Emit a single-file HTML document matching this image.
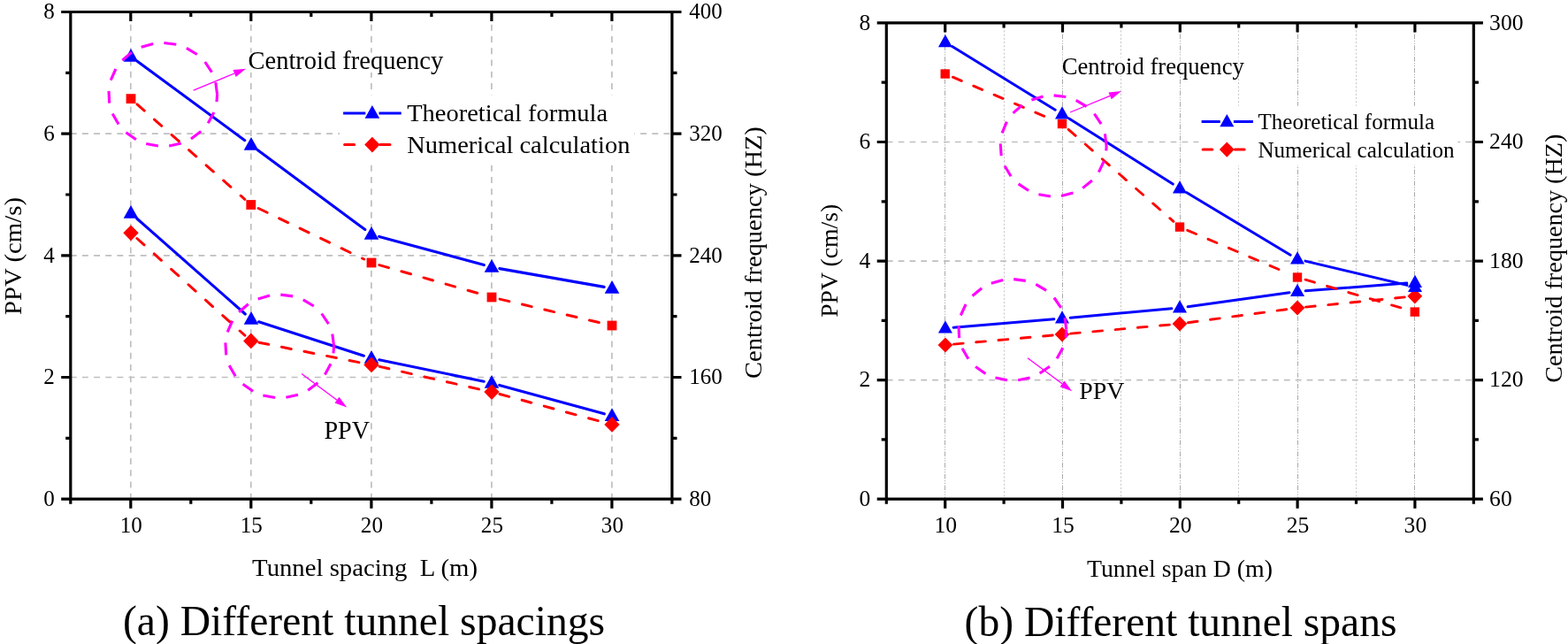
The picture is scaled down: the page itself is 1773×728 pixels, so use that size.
<!DOCTYPE html>
<html lang="en">
<head>
<meta charset="utf-8">
<title>PPV and centroid frequency</title>
<style>
html,body{margin:0;padding:0;background:#fff;}
body{width:1773px;height:728px;overflow:hidden;}
svg{display:block;}
svg text{font-family:"Liberation Serif", serif;fill:#000;}
</style>
</head>
<body>
<svg width="1773" height="728" viewBox="0 0 1773 728">
<rect width="1773" height="728" fill="#fff"/>
<g id="chart-a">
<g class="grid" fill="none">
<path d="M147.8,14.5V564.2M283.8,14.5V564.2M419.9,14.5V564.2M555.9,14.5V564.2M691.9,14.5V564.2" stroke="#bfbfbf" stroke-width="1.7" stroke-dasharray="6.95,6.3"/>
<path d="M79.8,426.5H759.9M79.8,288.9H759.9M79.8,151.2H759.9" stroke="#bfbfbf" stroke-width="1.7" stroke-dasharray="6.9,6.25"/>
</g>
<rect x="384" y="107.5" width="333.3" height="77.5" fill="#fff"/>
<rect x="280" y="59.5" width="223" height="22.5" fill="#fff"/>
<rect x="364" y="472" width="54.5" height="28" fill="#fff"/>
<g class="series bt">
<path d="M155.2,69.2L276.8,158.7M291.2,169.4L412.8,259.6M428.7,267.4L547.3,299.6M564.9,303.6L683.1,324.4" fill="none" stroke="#0000ff" stroke-width="3.1" stroke-linecap="round"/>
<polygon points="148,54.9 156.3,69.7 139.7,69.7" fill="#0000ff"/>
<polygon points="284,155 292.3,169.8 275.7,169.8" fill="#0000ff"/>
<polygon points="420,256 428.3,270.8 411.7,270.8" fill="#0000ff"/>
<polygon points="556,293 564.3,307.8 547.7,307.8" fill="#0000ff"/>
<polygon points="692,317 700.3,331.8 683.7,331.8" fill="#0000ff"/>
</g>
<g class="series rs">
<path d="M155,117.8L276.8,225.3M292.2,235.5L411.6,293M428.9,299.6L547.1,333.4M565.1,338.1L682.9,365.9" fill="none" stroke="#ff0000" stroke-width="3" stroke-linecap="round" stroke-dasharray="11,15.05"/>
<rect x="142.6" y="106.2" width="10.8" height="10.8" fill="#ff0000"/>
<rect x="278.4" y="226.1" width="10.8" height="10.8" fill="#ff0000"/>
<rect x="414.6" y="291.6" width="10.8" height="10.8" fill="#ff0000"/>
<rect x="550.6" y="330.6" width="10.8" height="10.8" fill="#ff0000"/>
<rect x="686.6" y="362.6" width="10.8" height="10.8" fill="#ff0000"/>
</g>
<g class="series bt">
<path d="M154.7,247L277.3,355M292.6,363.8L411.4,402.2M428.8,406.8L547.2,431.2M564.7,435.4L683.3,467.8" fill="none" stroke="#0000ff" stroke-width="3.1" stroke-linecap="round"/>
<polygon points="148,232 156.3,246.8 139.7,246.8" fill="#0000ff"/>
<polygon points="284,352 292.3,366.8 275.7,366.8" fill="#0000ff"/>
<polygon points="420,396 428.3,410.8 411.7,410.8" fill="#0000ff"/>
<polygon points="556,424 564.3,438.8 547.7,438.8" fill="#0000ff"/>
<polygon points="692,461.2 700.3,476 683.7,476" fill="#0000ff"/>
</g>
<g class="series rd">
<path d="M154.9,269.5L276.9,379.2M292.9,387.2L410.9,410.6M429.1,414.4L546.9,441.1M565,445.5L683,477.5" fill="none" stroke="#ff0000" stroke-width="3" stroke-linecap="round" stroke-dasharray="11,15.05"/>
<polygon points="148,254.4 156.7,263.3 148,272.2 139.3,263.3" fill="#ff0000"/>
<polygon points="283.8,376.4 292.5,385.4 283.8,394.3 275.1,385.4" fill="#ff0000"/>
<polygon points="420,403.4 428.7,412.4 420,421.3 411.3,412.4" fill="#ff0000"/>
<polygon points="556,434.2 564.7,443.1 556,452.1 547.3,443.1" fill="#ff0000"/>
<polygon points="692,470.9 700.7,479.9 692,488.8 683.3,479.9" fill="#ff0000"/>
</g>
<g class="notes" fill="none">
<path d="M245.6,106.9L243.8,93.0M239.5,81.6L231.8,70.0M222.8,61.5L210.9,54.3M199.3,50.3L185.4,48.5M173.2,49.5L159.7,53.3M148.9,59.1L138.3,68.2M130.9,78.0L125.2,90.7M123.0,102.8L123.7,116.7M127.2,128.5L134.1,140.6M142.4,149.7L153.9,157.7M165.2,162.4L178.9,165.1M191.2,164.9L204.8,161.9M216.0,156.9L227.2,148.6M235.3,139.3L241.9,127.0M245.0,115.1L245.6,106.9" stroke="#ff00ff" stroke-width="3.1"/>
<path d="M377.6,391.4L375.8,377.5M371.5,366.1L363.7,354.5M354.8,346.0L342.8,338.9M331.2,334.9L317.3,333.1M305.1,334.1L291.7,338.0M280.8,343.7L270.2,352.8M262.8,362.6L257.2,375.4M254.9,387.4L255.7,401.4M259.2,413.1L266.2,425.2M274.6,434.2L286.1,442.2M297.4,446.9L311.1,449.5M323.4,449.3L337.0,446.2M348.2,441.2L359.4,432.8M367.4,423.5L374.0,411.2M377.0,399.3L377.6,391.4" stroke="#ff00ff" stroke-width="3.1"/>
<line x1="218.7" y1="102.1" x2="265.1" y2="83" stroke="#ff00ff" stroke-width="1.3"/><polygon points="278,77.7 266.7,86.9 263.5,79.1" fill="#ff00ff"/>
<line x1="341" y1="422.5" x2="381" y2="452.2" stroke="#ff00ff" stroke-width="1.3"/><polygon points="392.2,460.5 378.5,455.5 383.5,448.8" fill="#ff00ff"/>
</g>
<path class="axes" d="M79.8,13.5H759.9V564.2H79.8ZM69.2,564.2H79.8M759.9,564.2H770.5M74.2,495.4H79.8M759.9,495.4H765.5M69.2,426.5H79.8M759.9,426.5H770.5M74.2,357.7H79.8M759.9,357.7H765.5M69.2,288.9H79.8M759.9,288.9H770.5M74.2,220H79.8M759.9,220H765.5M69.2,151.2H79.8M759.9,151.2H770.5M74.2,82.3H79.8M759.9,82.3H765.5M69.2,13.5H79.8M759.9,13.5H770.5M79.8,564.2V569.8M79.8,13.5V19.1M147.8,564.2V574.8M147.8,13.5V24.1M215.8,564.2V569.8M215.8,13.5V19.1M283.8,564.2V574.8M283.8,13.5V24.1M351.8,564.2V569.8M351.8,13.5V19.1M419.9,564.2V574.8M419.9,13.5V24.1M487.9,564.2V569.8M487.9,13.5V19.1M555.9,564.2V574.8M555.9,13.5V24.1M623.9,564.2V569.8M623.9,13.5V19.1M691.9,564.2V574.8M691.9,13.5V24.1M759.9,564.2V569.8M759.9,13.5V19.1" stroke="#000" stroke-width="3.2" fill="none"/>
<g class="ticks" font-size="26">
<text transform="translate(61.8,21.1) scale(0.965,1)" text-anchor="end">8</text>
<text transform="translate(61.8,158.8) scale(0.965,1)" text-anchor="end">6</text>
<text transform="translate(61.8,296.5) scale(0.965,1)" text-anchor="end">4</text>
<text transform="translate(61.8,434.1) scale(0.965,1)" text-anchor="end">2</text>
<text transform="translate(61.8,571.8) scale(0.965,1)" text-anchor="end">0</text>
<text transform="translate(779.2,21.1) scale(0.965,1)">400</text>
<text transform="translate(779.2,158.8) scale(0.965,1)">320</text>
<text transform="translate(779.2,296.5) scale(0.965,1)">240</text>
<text transform="translate(779.2,434.1) scale(0.965,1)">160</text>
<text transform="translate(779.2,571.8) scale(0.965,1)">80</text>
<text transform="translate(148.3,601.8) scale(0.965,1)" text-anchor="middle">10</text>
<text transform="translate(284.3,601.8) scale(0.965,1)" text-anchor="middle">15</text>
<text transform="translate(420.4,601.8) scale(0.965,1)" text-anchor="middle">20</text>
<text transform="translate(556.4,601.8) scale(0.965,1)" text-anchor="middle">25</text>
<text transform="translate(692.4,601.8) scale(0.965,1)" text-anchor="middle">30</text>
</g>
<text transform="translate(285.10,651.00) scale(1.0570,1)" font-size="27.2">Tunnel spacing&#160; L (m)</text>
<text transform="translate(23.60,355.90) rotate(-90) scale(1.0497,1)" font-size="27.4">PPV (cm/s)</text>
<text transform="translate(861.20,427.90) rotate(-90) scale(1.0404,1)" font-size="27.4">Centroid frequency (HZ)</text>
<text transform="translate(280.50,78.00) scale(1.0038,1)" font-size="28.4">Centroid frequency</text>
<text transform="translate(366.40,496.00) scale(0.9922,1)" font-size="28.4">PPV</text>
<text transform="translate(139.00,718.20) scale(0.9939,1)" font-size="47.9">(a) Different tunnel spacings</text>
<path d="M388.1,128H413.3M428.5,128H453.7" stroke="#0000ff" stroke-width="3.1" fill="none"/>
<polygon points="420.9,119 429.2,133.8 412.6,133.8" fill="#0000ff"/>
<text transform="translate(460.20,137.00) scale(1.0590,1)" font-size="26.9">Theoretical formula</text>
<path d="M389.6,163.6H413.3M430,163.6H453.7" stroke="#ff0000" stroke-width="3" stroke-linecap="round" stroke-dasharray="11,15.05" fill="none"/>
<polygon points="420.9,154.7 429.6,163.6 420.9,172.5 412.2,163.6" fill="#ff0000"/>
<text transform="translate(460.20,172.50) scale(1.0593,1)" font-size="26.9">Numerical calculation</text>
</g>
<g id="chart-b">
<g class="grid" fill="none">
<path d="M1068.5,25.9V564.2M1201.5,25.9V564.2M1334.5,25.9V564.2M1467.5,25.9V564.2M1599.5,25.9V564.2" stroke="#aaaaaa" stroke-width="1" stroke-dasharray="5.5,1.6,1.2,1.6,1.2,1.65"/>
<path d="M1135.5,25.9V564.2M1267.5,25.9V564.2M1400.5,25.9V564.2M1533.5,25.9V564.2" stroke="#c8c8c8" stroke-width="1" stroke-dasharray="2.2,2"/>
<path d="M1002.9,429.6H1666.3M1002.9,295.1H1666.3M1002.9,160.5H1666.3" stroke="#bfbfbf" stroke-width="1.7" stroke-dasharray="6.7,6.13"/>
</g>
<rect x="1355.4" y="119.7" width="293" height="67" fill="#fff"/>
<rect x="1200" y="63" width="208" height="23" fill="#fff" fill-opacity="0.5"/>
<g class="series rd">
<path d="M1078.4,389.1L1191.5,378.9M1210.5,377.1L1324.5,366.9M1343.4,364.7L1457.6,349.3M1476.5,347.1L1590.3,335.7" fill="none" stroke="#ff0000" stroke-width="2.9" stroke-linecap="round" stroke-dasharray="10.7,14.7"/>
<polygon points="1068.9,381.4 1077.3,390 1068.9,398.6 1060.5,390" fill="#ff0000"/>
<polygon points="1201,369.4 1209.4,378 1201,386.6 1192.6,378" fill="#ff0000"/>
<polygon points="1334,357.4 1342.4,366 1334,374.6 1325.6,366" fill="#ff0000"/>
<polygon points="1467,339.4 1475.4,348 1467,356.6 1458.6,348" fill="#ff0000"/>
<polygon points="1599.8,326.2 1608.2,334.8 1599.8,343.4 1591.4,334.8" fill="#ff0000"/>
</g>
<g class="series bt">
<path d="M1078.1,370.2L1191.8,360.8M1210.2,359.2L1324.8,348.8M1343.1,346.7L1457.9,330.8M1476.2,328.8L1590.8,320.1" fill="none" stroke="#0000ff" stroke-width="3.0" stroke-linecap="round"/>
<polygon points="1068.9,362.3 1076.9,376.6 1060.9,376.6" fill="#0000ff"/>
<polygon points="1201,351.3 1209,365.6 1193,365.6" fill="#0000ff"/>
<polygon points="1334,339.3 1342,353.6 1326,353.6" fill="#0000ff"/>
<polygon points="1467,320.8 1475,335.1 1459,335.1" fill="#0000ff"/>
<polygon points="1600,310.7 1608,325 1592,325" fill="#0000ff"/>
</g>
<g class="series rs">
<path d="M1077.4,87.2L1192.3,136.3M1208.1,146.3L1326.9,250.3M1342.7,260.3L1458.3,309.8M1476.1,316.2L1590.7,349.9" fill="none" stroke="#ff0000" stroke-width="2.9" stroke-linecap="round" stroke-dasharray="10.7,14.7"/>
<rect x="1063.5" y="78.3" width="10.4" height="10.4" fill="#ff0000"/>
<rect x="1195.8" y="134.8" width="10.4" height="10.4" fill="#ff0000"/>
<rect x="1328.8" y="251.4" width="10.4" height="10.4" fill="#ff0000"/>
<rect x="1461.8" y="308.3" width="10.4" height="10.4" fill="#ff0000"/>
<rect x="1594.6" y="347.4" width="10.4" height="10.4" fill="#ff0000"/>
</g>
<g class="series bt">
<path d="M1076.7,52.5L1193.2,124.2M1208.8,133.9L1326.2,208.1M1341.9,217.7L1459.1,288.3M1476,295.1L1591,322.4" fill="none" stroke="#0000ff" stroke-width="3.0" stroke-linecap="round"/>
<polygon points="1068.9,39 1076.9,53.3 1060.9,53.3" fill="#0000ff"/>
<polygon points="1201,120.3 1209,134.6 1193,134.6" fill="#0000ff"/>
<polygon points="1334,204.3 1342,218.6 1326,218.6" fill="#0000ff"/>
<polygon points="1467,284.3 1475,298.6 1459,298.6" fill="#0000ff"/>
<polygon points="1600,315.8 1608,330.1 1592,330.1" fill="#0000ff"/>
</g>
<g class="notes" fill="none">
<path d="M1251.1,165.0L1249.4,151.3M1245.1,140.1L1237.4,128.6M1228.6,120.4L1216.7,113.4M1205.3,109.5L1191.6,107.9M1179.5,109.0L1166.4,113.0M1155.8,118.8L1145.5,127.9M1138.4,137.7L1133.1,150.4M1131.2,162.3L1132.2,176.1M1136.0,187.5L1143.1,199.3M1151.6,207.9L1163.1,215.5M1174.4,219.8L1187.9,222.0M1200.0,221.5L1213.4,218.0M1224.2,212.6L1234.9,204.0M1242.4,194.6L1248.3,182.1M1250.8,170.3L1251.1,165.0" stroke="#ff00ff" stroke-width="3.1"/>
<path d="M1205.8,372.8L1204.0,359.2M1199.7,347.9L1191.9,336.5M1183.1,328.3L1171.3,321.3M1159.8,317.4L1146.2,315.6M1134.1,316.5L1120.8,320.2M1110.1,325.7L1099.5,334.5M1092.1,344.0L1086.3,356.5M1084.0,368.4L1084.6,382.1M1088.0,393.7L1094.9,405.7M1103.1,414.5L1114.4,422.4M1125.5,427.1L1139.0,429.7M1151.1,429.7L1164.6,426.9M1175.7,422.1L1186.9,414.2M1195.1,405.2L1201.8,393.2M1205.1,381.6L1205.8,372.8" stroke="#ff00ff" stroke-width="3.1"/>
<line x1="1210" y1="127" x2="1255.1" y2="108.4" stroke="#ff00ff" stroke-width="1.3"/><polygon points="1268,103 1256.7,112.2 1253.5,104.5" fill="#ff00ff"/>
<line x1="1162" y1="404.7" x2="1201" y2="433.8" stroke="#ff00ff" stroke-width="1.3"/><polygon points="1212.2,442.2 1198.5,437.2 1203.5,430.5" fill="#ff00ff"/>
</g>
<path class="axes" d="M1002.3,25.9H1666.3V564.2H1002.3ZM991.7,564.2H1002.3M1666.3,564.2H1676.9M996.7,496.9H1002.3M1666.3,496.9H1671.9M991.7,429.6H1002.3M1666.3,429.6H1676.9M996.7,362.3H1002.3M1666.3,362.3H1671.9M991.7,295.1H1002.3M1666.3,295.1H1676.9M996.7,227.8H1002.3M1666.3,227.8H1671.9M991.7,160.5H1002.3M1666.3,160.5H1676.9M996.7,93.2H1002.3M1666.3,93.2H1671.9M991.7,25.9H1002.3M1666.3,25.9H1676.9M1002.3,564.2V569.8M1002.3,25.9V31.5M1068.7,564.2V574.8M1068.7,25.9V36.5M1135.1,564.2V569.8M1135.1,25.9V31.5M1201.5,564.2V574.8M1201.5,25.9V36.5M1267.9,564.2V569.8M1267.9,25.9V31.5M1334.3,564.2V574.8M1334.3,25.9V36.5M1400.7,564.2V569.8M1400.7,25.9V31.5M1467.1,564.2V574.8M1467.1,25.9V36.5M1533.5,564.2V569.8M1533.5,25.9V31.5M1599.9,564.2V574.8M1599.9,25.9V36.5M1666.3,564.2V569.8M1666.3,25.9V31.5" stroke="#000" stroke-width="3.2" fill="none"/>
<g class="ticks" font-size="26">
<text transform="translate(984.3,33.5) scale(0.985,1)" text-anchor="end">8</text>
<text transform="translate(984.3,168.1) scale(0.985,1)" text-anchor="end">6</text>
<text transform="translate(984.3,302.7) scale(0.985,1)" text-anchor="end">4</text>
<text transform="translate(984.3,437.2) scale(0.985,1)" text-anchor="end">2</text>
<text transform="translate(984.3,571.8) scale(0.985,1)" text-anchor="end">0</text>
<text transform="translate(1684.1,33.5) scale(0.985,1)">300</text>
<text transform="translate(1684.1,168.1) scale(0.985,1)">240</text>
<text transform="translate(1684.1,302.7) scale(0.985,1)">180</text>
<text transform="translate(1684.1,437.2) scale(0.985,1)">120</text>
<text transform="translate(1684.1,571.8) scale(0.985,1)">60</text>
<text transform="translate(1069.2,601.8) scale(0.985,1)" text-anchor="middle">10</text>
<text transform="translate(1202,601.8) scale(0.985,1)" text-anchor="middle">15</text>
<text transform="translate(1334.8,601.8) scale(0.985,1)" text-anchor="middle">20</text>
<text transform="translate(1467.6,601.8) scale(0.985,1)" text-anchor="middle">25</text>
<text transform="translate(1600.4,601.8) scale(0.985,1)" text-anchor="middle">30</text>
</g>
<text transform="translate(1228.90,652.40) scale(1.0473,1)" font-size="26.6">Tunnel span D (m)</text>
<text transform="translate(947.20,358.80) rotate(-90) scale(1.0428,1)" font-size="26.6">PPV (cm/s)</text>
<text transform="translate(1765.50,432.70) rotate(-90) scale(1.0569,1)" font-size="26.6">Centroid frequency (HZ)</text>
<text transform="translate(1200.70,84.00) scale(0.9707,1)" font-size="27.4">Centroid frequency</text>
<text transform="translate(1220.20,451.00) scale(1.0111,1)" font-size="27.6">PPV</text>
<text transform="translate(1090.60,718.60) scale(0.9949,1)" font-size="47.8">(b) Different tunnel spans</text>
<path d="M1358.6,137.6H1379.7M1394.9,137.6H1416.9" stroke="#0000ff" stroke-width="3.0" fill="none"/>
<polygon points="1387.3,128.9 1395.3,143.2 1379.3,143.2" fill="#0000ff"/>
<text transform="translate(1422.40,145.60) scale(1.0321,1)" font-size="24.3">Theoretical formula</text>
<path d="M1360.1,169.1H1379.7M1396.4,169.1H1416.9" stroke="#ff0000" stroke-width="3" stroke-linecap="round" stroke-dasharray="10.7,14.7" fill="none"/>
<polygon points="1387.3,160.5 1395.7,169.1 1387.3,177.7 1378.9,169.1" fill="#ff0000"/>
<text transform="translate(1422.40,177.50) scale(1.0329,1)" font-size="24.3">Numerical calculation</text>
</g>
</svg>
</body>
</html>
